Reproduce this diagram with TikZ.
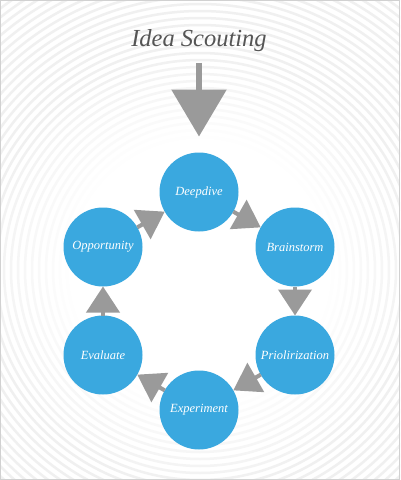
\documentclass[tikz,border=0pt]{standalone}
\usepackage{fontspec}
\setmainfont{Liberation Serif}
\usetikzlibrary{arrows.meta, positioning}
\definecolor{cycleblue}{HTML}{3AA8DF}
\definecolor{arrowgray}{HTML}{9A9A9A}
\definecolor{titlegray}{HTML}{555555}

\begin{document}
\begin{tikzpicture}[
        x = 1pt, y = -1pt, node distance = 110pt, on grid,
        >= {Triangle[length = 26pt, width = 33pt]},
        stage/.style = {circle, fill = cycleblue, minimum size = 79pt, inner sep = 0pt, outer sep = 0pt,
                        text = white, font = \fontsize{12.5}{14}\selectfont\itshape},
        flow/.style = {color = arrowgray, line width = 4pt},
        ring/.style = {line width = 2.5pt}
    ]
      % background rings
      \useasboundingbox (0,0) rectangle (400,480);
      \begin{scope}
        \clip (0,0) rectangle (400,480);
        \fill[white] (0,0) rectangle (400,480);
        \foreach \r in {112,119,...,420} {
          \pgfmathsetmacro\tint{min(6, max(0, (\r-125)/16))}
          \draw[ring, black!\tint] (200,270) circle[radius = \r pt];
        }
      \end{scope}
      \draw[black!18, line width = 1pt] (0.5,0.5) rectangle (399.5,479.5);

      % cycle
      \node[stage] (deep) at (199,192) {Deepdive};
      \node[stage] (brain) [below right = 55pt and 96pt of deep] {Brainstorm};
      \node[stage] (prio) [below = 108pt of brain] {Priolirization};
      \node[stage] (exp) [below left = 55pt and 96pt of prio] {Experiment};
      \node[stage] (eval) [above left = 55pt and 96pt of exp] {Evaluate};
      \node[stage] (opp) [above = 108pt of eval] {Opportunity};

      \node[text = titlegray, inner sep = 0pt, font = \fontsize{24.5}{28}\selectfont\itshape]
        (idea) [above = 151pt of deep] {Idea Scouting};

      \draw[arrowgray, line width = 6pt, -{Triangle[length = 47pt, width = 54pt]},
            shorten <= 10.5pt, shorten >= 16pt] (idea) -- (deep);

      \path[flow, ->]
        (deep)  edge (brain)
        (brain) edge (prio)
        (prio)  edge (exp)
        (exp)   edge (eval)
        (eval)  edge (opp)
        (opp)   edge (deep);
\end{tikzpicture}
\end{document}
